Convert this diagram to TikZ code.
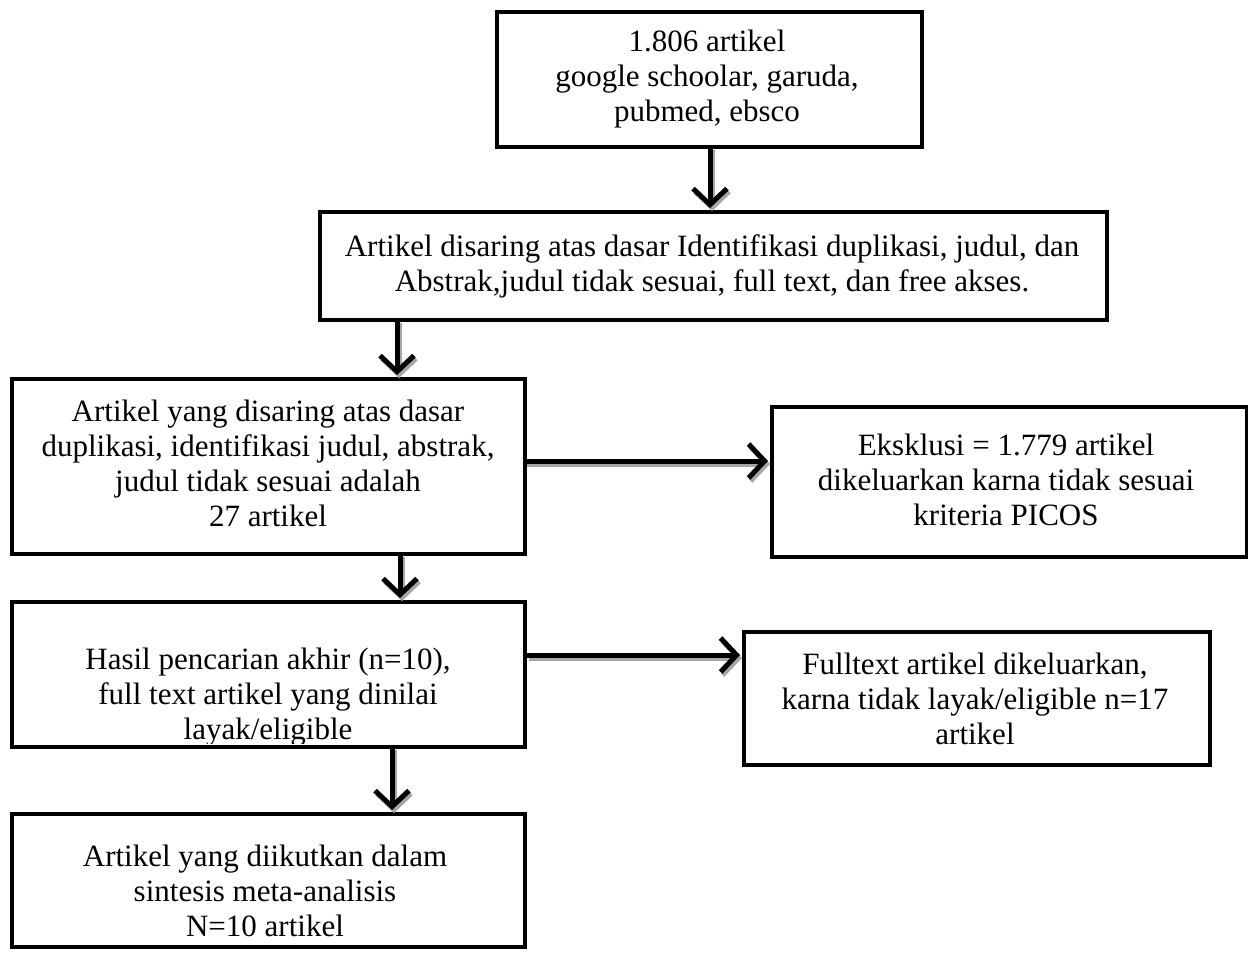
\documentclass[tikz,border=0pt]{standalone}
\usepackage{fontspec}
\setmainfont{Liberation Serif}
\usetikzlibrary{arrows.meta}
\begin{document}
\begin{tikzpicture}[x=1pt,y=-1pt,
  box/.style={draw=black,line width=4pt,minimum width=#1,inner sep=0pt,anchor=north west},
  txt/.style={align=center,inner sep=0pt,font=\fontsize{31}{35}\selectfont},
  arr/.style={line width=5pt,-{Straight Barb[length=16pt,width=34pt,line width=5pt]}},
  shd/.style={line width=5pt,draw=gray!70,-{Straight Barb[length=16pt,width=34pt,line width=5pt]}}]
\useasboundingbox[fill=white] (0,0) rectangle (1248,954);
% boxes
\node[box=425pt,minimum height=135pt] (b1) at (495,10) {};
\node[box=787pt,minimum height=108pt] (b2) at (318,210) {};
\node[box=513pt,minimum height=175pt] (b3) at (10,377) {};
\node[box=475pt,minimum height=150pt] (b4) at (770,405) {};
\node[box=513pt,minimum height=145pt] (b5) at (10,600) {};
\node[box=466pt,minimum height=133pt] (b6) at (742,630) {};
\node[box=513pt,minimum height=133pt] (b7) at (10,812) {};
% texts
\node[txt] (t1) at (707,79) {1.806 artikel\\google schoolar, garuda,\\pubmed, ebsco};
\node[txt] (t2) at (712,266) {Artikel disaring atas dasar Identifikasi duplikasi, judul, dan\\Abstrak,judul tidak sesuai, full text, dan free akses.};
\node[txt] (t3) at (268,463) {Artikel yang disaring atas dasar\\duplikasi, identifikasi judul, abstrak,\\judul tidak sesuai adalah\\27 artikel};
\node[txt] (t4) at (1006,480) {Eksklusi = 1.779 artikel\\dikeluarkan karna tidak sesuai\\kriteria PICOS};
\begin{scope}
\clip (12,602) rectangle (521,743);
\node[txt] (t5) at (268,697) {Hasil pencarian akhir (n=10),\\full text artikel yang dinilai\\layak/eligible};
\end{scope}
\node[txt] (t6) at (975,699) {Fulltext artikel dikeluarkan,\\karna tidak layak/eligible n=17\\artikel};
\node[txt] (t7) at (265,891) {Artikel yang diikutkan dalam\\sintesis meta-analisis\\N=10 artikel};
% connector coordinates
\coordinate (a1s) at (710,147); \coordinate (a1e) at (710,208);
\coordinate (a2s) at (397,320); \coordinate (a2e) at (397,375);
\coordinate (a3s) at (400,554); \coordinate (a3e) at (400,598);
\coordinate (a4s) at (392,747); \coordinate (a4e) at (392,810);
\coordinate (h1s) at (525,461); \coordinate (h1e) at (768,461);
\coordinate (h2s) at (527,655); \coordinate (h2e) at (740,655);
% shadows
\foreach \s/\e in {a1s/a1e,a2s/a2e,a3s/a3e,a4s/a4e,h1s/h1e,h2s/h2e}
  \draw[shd] ([shift={(2,3)}]\s) -- ([shift={(2,3)}]\e);
% arrows
\draw[arr] (a1s) -- (a1e);
\draw[arr] (a2s) -- (a2e);
\draw[arr] (a3s) -- (a3e);
\draw[arr] (a4s) -- (a4e);
\draw[arr] (h1s) -- (h1e);
\draw[arr] (h2s) -- (h2e);
\end{tikzpicture}
\end{document}
